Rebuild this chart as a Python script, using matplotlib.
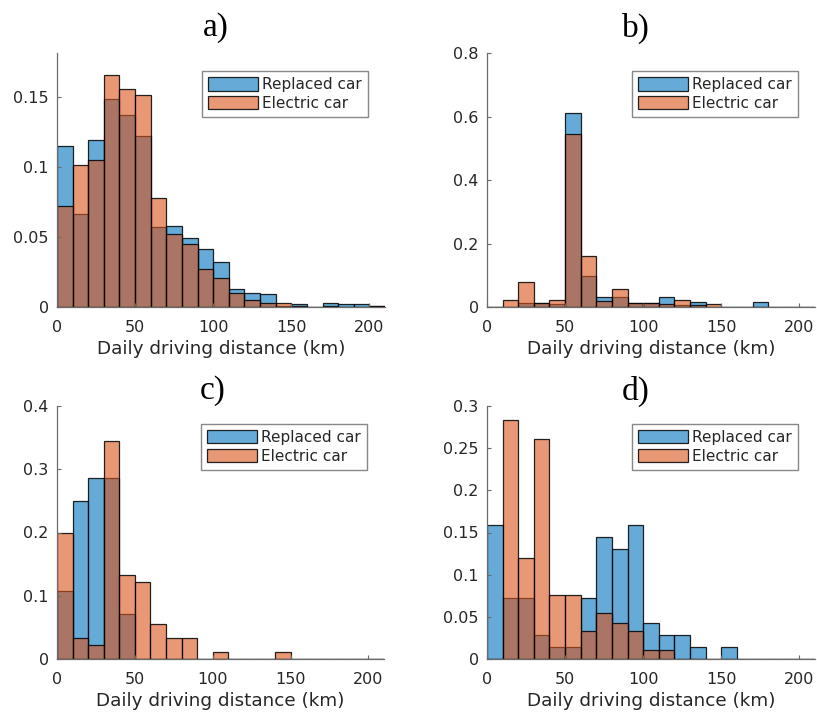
import numpy as np
import matplotlib
matplotlib.use("Agg")
import matplotlib.pyplot as plt

# ---- data ----
bin_edges = list(range(0, 220, 10))  # 0..210 km, 10 km bins

replaced_a = [0.115, 0.066, 0.119, 0.148, 0.137, 0.122, 0.057, 0.058, 0.049, 0.041, 0.032,
              0.013, 0.010, 0.009, 0.001, 0.002, 0.000, 0.003, 0.002, 0.002, 0.001]
electric_a = [0.072, 0.101, 0.105, 0.165, 0.155, 0.151, 0.078, 0.052, 0.045, 0.027, 0.021,
              0.010, 0.005, 0.003, 0.003, 0.0005, 0.000, 0.0005, 0.000, 0.000, 0.001]

replaced_b = [0.000, 0.000, 0.013, 0.013, 0.010, 0.610, 0.097, 0.032, 0.032, 0.013, 0.013,
              0.032, 0.006, 0.015, 0.000, 0.000, 0.000, 0.015, 0.000, 0.000, 0.000]
electric_b = [0.000, 0.021, 0.079, 0.013, 0.021, 0.545, 0.162, 0.020, 0.057, 0.013, 0.013,
              0.010, 0.021, 0.006, 0.010, 0.000, 0.000, 0.000, 0.000, 0.000, 0.000]

replaced_c = [0.107, 0.250, 0.286, 0.286, 0.071, 0.000, 0.000, 0.000, 0.000, 0.000, 0.000,
              0.000, 0.000, 0.000, 0.000, 0.000, 0.000, 0.000, 0.000, 0.000, 0.000]
electric_c = [0.200, 0.033, 0.022, 0.344, 0.133, 0.122, 0.056, 0.033, 0.033, 0.000, 0.011,
              0.000, 0.000, 0.000, 0.011, 0.000, 0.000, 0.000, 0.000, 0.000, 0.000]

replaced_d = [0.159, 0.072, 0.072, 0.029, 0.014, 0.014, 0.072, 0.145, 0.130, 0.159, 0.043,
              0.029, 0.029, 0.014, 0.000, 0.014, 0.000, 0.000, 0.000, 0.000, 0.000]
electric_d = [0.000, 0.283, 0.120, 0.261, 0.076, 0.076, 0.033, 0.054, 0.043, 0.033, 0.011,
              0.011, 0.000, 0.000, 0.000, 0.000, 0.000, 0.000, 0.000, 0.000, 0.000]

panel_labels = ["a)", "b)", "c)", "d)"]
series_labels = ["Replaced car", "Electric car"]
x_ticks = [0, 50, 100, 150, 200]
y_ticks = [[0, 0.05, 0.1, 0.15], [0, 0.2, 0.4, 0.6, 0.8],
           [0, 0.1, 0.2, 0.3, 0.4], [0, 0.05, 0.1, 0.15, 0.2, 0.25, 0.3]]
y_ticklabels = [["0", "0.05", "0.1", "0.15"], ["0", "0.2", "0.4", "0.6", "0.8"],
                ["0", "0.1", "0.2", "0.3", "0.4"],
                ["0", "0.05", "0.1", "0.15", "0.2", "0.25", "0.3"]]
y_tops = [0.181, 0.8, 0.4, 0.3]
x_label = "Daily driving distance (km)"

# ---- style ----
plt.rcParams['font.family'] = ['DejaVu Sans']
blue = (0.0, 0.447, 0.741, 0.6)
orange = (0.850, 0.325, 0.098, 0.6)
txt = '#262626'
spine_c = '#6a6a6a'

W, H = 817, 713
fig = plt.figure(figsize=(W / 100, H / 100), dpi=100)

# axes rectangles in pixels: left, top, right, bottom
rects = [(57, 53, 385, 307), (487, 53, 815, 307),
         (57, 406, 384, 659), (487, 406, 815, 659)]
title_pos = [(216, 28), (636, 28), (213, 391), (636, 391)]

data = [(replaced_a, electric_a), (replaced_b, electric_b),
        (replaced_c, electric_c), (replaced_d, electric_d)]

lefts = np.array(bin_edges[:-1])
for i, (l, t, r, b) in enumerate(rects):
    ax = fig.add_axes([l / W, 1 - b / H, (r - l) / W, (b - t) / H])
    rep, ele = data[i]
    ax.bar(lefts, rep, width=10, align='edge', color=blue, edgecolor=(0, 0, 0, 0.85),
           linewidth=0.9, label=series_labels[0])
    ax.bar(lefts, ele, width=10, align='edge', color=orange, edgecolor=(0, 0, 0, 0.85),
           linewidth=0.9, label=series_labels[1])
    ax.set_xlim(0, 210)
    ax.set_ylim(0, y_tops[i])
    ax.set_xticks(x_ticks)
    ax.set_yticks(y_ticks[i])
    ax.set_yticklabels(y_ticklabels[i])
    for s in ['top', 'right']:
        ax.spines[s].set_visible(False)
    for s in ['left', 'bottom']:
        ax.spines[s].set_color(spine_c)
        ax.spines[s].set_linewidth(0.9)
    ax.tick_params(direction='in', length=3, width=0.8, color=spine_c,
                   labelsize=11.5, labelcolor=txt, pad=6)
    ax.tick_params(axis='x', pad=9)
    ax.set_xlabel(x_label, fontsize=13.2, color=txt, labelpad=4)
    leg = ax.legend(loc='upper right', bbox_to_anchor=(0.948, 0.93), borderaxespad=0,
                    fontsize=11, frameon=True, fancybox=False, handlelength=3.3,
                    handleheight=1.0, handletextpad=0.25, labelspacing=0.25,
                    borderpad=0.4)
    leg.get_frame().set_edgecolor('#6a6a6a')
    leg.get_frame().set_linewidth(1.0)
    for tx in leg.get_texts():
        tx.set_color(txt)
    tx_, ty_ = title_pos[i]
    fig.text(tx_ / W, 1 - ty_ / H, panel_labels[i], family='Liberation Serif',
             fontsize=24, ha='center', va='center', color='black')

fig.savefig('out.png', dpi=100)
